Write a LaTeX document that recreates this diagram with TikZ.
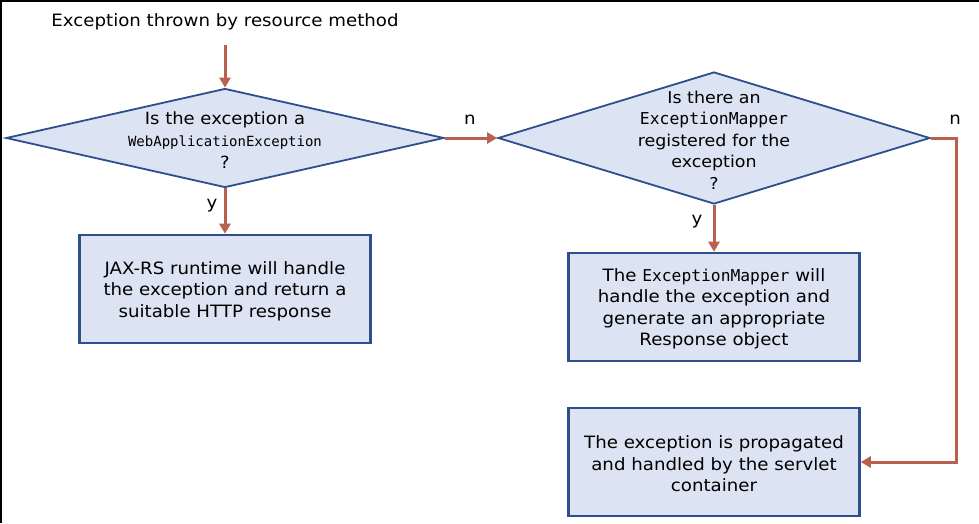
\documentclass[tikz,border=0pt]{standalone}
\usepackage{fontspec}
\setmainfont[FakeStretch=1.07]{DejaVu Sans}
\setmonofont{DejaVu Sans Mono}
\usetikzlibrary{shapes.geometric,arrows.meta}
\definecolor{boxfill}{HTML}{DCE3F3}
\definecolor{boxdraw}{HTML}{2E4E8C}
\definecolor{arrowc}{HTML}{B9604F}
\begin{document}
\begin{tikzpicture}[x=1pt,y=-1pt,
 decision/.style={diamond, draw=boxdraw, fill=boxfill, line width=1.8pt, inner sep=0pt},
 process/.style={rectangle, draw=boxdraw, fill=boxfill, line width=2.6pt, inner sep=0pt, minimum width=291pt, minimum height=108pt},
 txt/.style={align=center, font=\fontsize{17}{21.5}\selectfont, inner sep=0pt},
 flow/.style={draw=arrowc, line width=3pt, -{Triangle[length=10pt,width=11pt]}},
 lbl/.style={font=\fontsize{17}{19}\selectfont, inner sep=0pt}]
\useasboundingbox (0,0) rectangle (979,523);
\fill[white] (0,0) rectangle (979,523);
\fill[black] (0,0) rectangle (979,2);
\fill[black] (0,0) rectangle (2,523);

\node[txt] (start) at (225,22) {Exception thrown by resource method};
\coordinate (s) at (225,45);

\node[decision, minimum width=438pt, minimum height=99pt] (d1) at (225,138) {};
\node[txt, font=\fontsize{16.8}{21.8}\selectfont] (t1) at (225,140) {Is the exception a\\{\fontsize{14}{21.8}\selectfont\ttfamily WebApplicationException}\\?};

\node[decision, minimum width=432pt, minimum height=132pt] (d2) at (714,138) {};
\node[txt, font=\fontsize{16.3}{21.5}\selectfont] (t2) at (714,140) {Is there an\\{\fontsize{16.4}{21.5}\selectfont\ttfamily ExceptionMapper}\\registered for the\\exception\\?};

\node[process] (b1) at (225,289) {};
\node[txt] (tb1) at (225,291) {JAX-RS runtime will handle\\the exception and return a\\suitable HTTP response};
\node[process] (b2) at (714,307) {};
\node[txt] (tb2) at (714,309) {The {\fontsize{16.3}{21.5}\selectfont\ttfamily ExceptionMapper} will\\handle the exception and\\generate an appropriate\\Response object};
\node[process] (b3) at (714,462) {};
\node[txt] (tb3) at (714,464) {The exception is propagated\\and handled by the servlet\\container};

\draw[flow] (s) -- (d1.north);
\draw[flow] (d1.east) -- (d2.west);
\draw[flow] (d1.south) -- (b1.north);
\draw[flow] (d2.south) -- (b2.north);
\draw[flow] (d2.east) -- ++(26,0) |- (b3.east);

\node[lbl] (n1) at (470,120) {n};
\node[lbl] (n2) at (955,120) {n};
\node[lbl] (y1) at (212,206) {y};
\node[lbl] (y2) at (697,222) {y};
\end{tikzpicture}
\end{document}
